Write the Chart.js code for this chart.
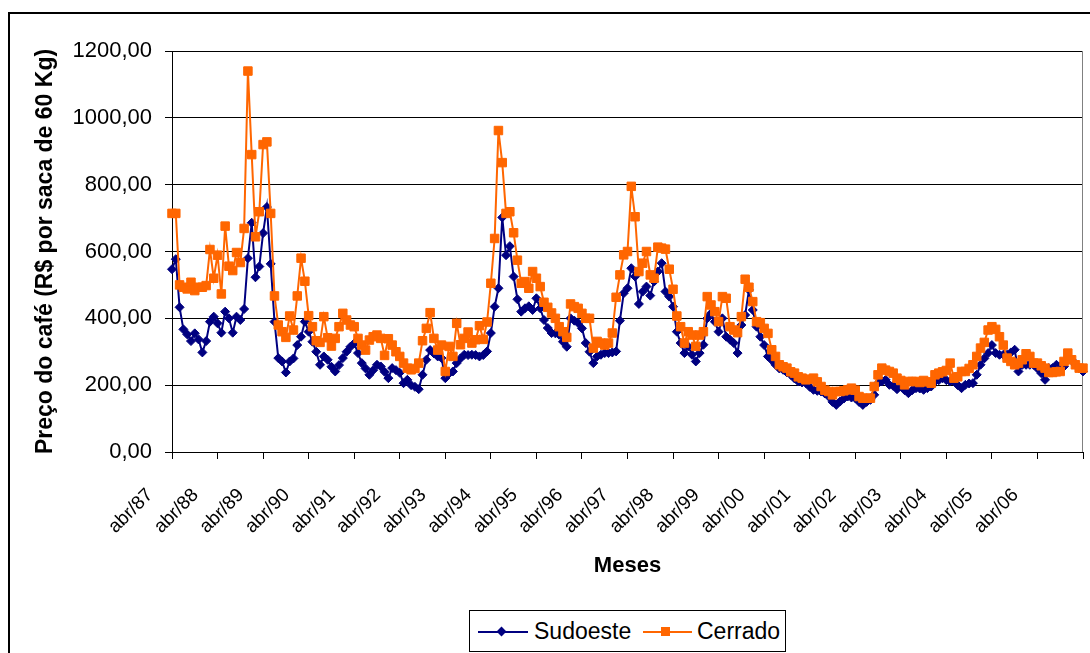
<!DOCTYPE html>
<html>
<head>
<meta charset="utf-8">
<title>Preço do café</title>
<script src="https://cdn.jsdelivr.net/npm/chart.js@4.4.1/dist/chart.umd.min.js"></script>
<style>
  html, body { margin: 0; padding: 0; background: #fff; }
  body { width: 1090px; height: 653px; position: relative; overflow: hidden; font-family: "Liberation Sans", Arial, sans-serif; }
  #frame { position: absolute; left: 8px; top: 12px; width: 1200px; height: 800px; border: 2px solid #000; }
  #chart { position: absolute; left: 0; top: 0; }
  #legend { position: absolute; left: 469px; top: 610px; width: 315px; height: 40px; border: 1px solid #000; background: #fff; }
  #legend .line { position: absolute; height: 2px; top: 20px; }
  #legend .txt { position: absolute; top: 0; line-height: 41px; font-size: 23px; color: #000; }
  #legend .diamond { position: absolute; width: 7px; height: 7px; background: #000080; transform: rotate(45deg); left: 28px; top: 17px; }
  #legend .square { position: absolute; width: 9px; height: 9px; background: #ff6600; left: 191px; top: 16px; }
</style>
</head>
<body>
<div id="frame"></div>
<canvas id="chart" width="1090" height="653"></canvas>
<div id="legend">
  <div class="line" style="left:8px;width:50px;background:#000080"></div>
  <div class="diamond"></div>
  <div class="txt" style="left:64px">Sudoeste</div>
  <div class="line" style="left:173px;width:49px;background:#ff6600"></div>
  <div class="square"></div>
  <div class="txt" style="left:227px">Cerrado</div>
</div>
<script>
  // month labels: abr/87 .. abr/07, one label per year on the axis
  const MONTH_NAMES = ['jan', 'fev', 'mar', 'abr', 'mai', 'jun', 'jul', 'ago', 'set', 'out', 'nov', 'dez'];
  const FIRST_YEAR = 1987;
  const FIRST_MONTH = 3; // abril

  // R$ por saca de 60 kg, one row per year starting in April
  const sudoeste = [
    547, 577, 433, 367, 352, 332, 355, 337, 298, 332, 390, 405,
    385, 357, 420, 400, 357, 405, 395, 428, 580, 686, 523, 555,
    655, 733, 563, 390, 281, 271, 238, 271, 280, 320, 345, 390,
    360, 330, 300, 261, 286, 276, 255, 241, 260, 281, 300, 315,
    325, 296, 266, 250, 231, 245, 261, 256, 240, 221, 251, 245,
    237, 206, 216, 200, 195, 188, 231, 276, 305, 295, 286, 281,
    221, 235, 241, 266, 280, 291, 290, 291, 290, 286, 290, 301,
    356, 435, 490, 702, 589, 616, 525, 457, 420, 430, 436, 425,
    460, 430, 395, 371, 356, 355, 351, 330, 315, 400, 393, 386,
    370, 326, 300, 266, 286, 291, 296, 296, 298, 301, 393, 475,
    490, 550, 525, 443, 480, 495, 468, 510, 540, 565, 480, 465,
    435, 360, 326, 296, 316, 291, 271, 296, 321, 400, 415, 390,
    360, 400, 345, 336, 326, 296, 380, 410, 485, 425, 375, 345,
    320, 286, 275, 261, 250, 246, 238, 231, 220, 211, 208, 206,
    195, 186, 183, 181, 175, 166, 150, 141, 151, 160, 166, 163,
    161, 150, 141, 150, 156, 171, 206, 211, 216, 201, 198, 188,
    196, 185, 176, 185, 191, 190, 186, 191, 196, 211, 215, 221,
    215, 211, 211, 200, 191, 201, 205, 206, 231, 261, 280, 296,
    320, 296, 291, 291, 291, 298, 306, 241, 261, 261, 261, 261,
    250, 236, 216, 251, 251, 261, 256, 256, 281, 276, 261, 250,
    241
  ];

  const cerrado = [
    714, 714, 500, 493, 488, 508, 483, 493, 493, 498, 606, 520,
    589, 473, 676, 556, 543, 597, 567, 669, 1140, 890, 644, 719,
    920, 928, 714, 467, 380, 360, 343, 407, 365, 467, 580, 511,
    408, 375, 333, 328, 405, 342, 317, 340, 375, 415, 395, 380,
    375, 340, 320, 305, 335, 345, 350, 340, 289, 339, 320, 300,
    286, 266, 251, 246, 250, 266, 333, 370, 417, 340, 305, 320,
    241, 316, 286, 385, 321, 340, 359, 326, 336, 378, 337, 389,
    505, 639, 962, 866, 714, 719, 656, 574, 505, 510, 490, 540,
    520, 495, 448, 433, 416, 400, 375, 360, 343, 443, 435, 430,
    415, 400, 400, 311, 331, 326, 320, 326, 356, 463, 530, 590,
    600, 795, 704, 540, 565, 600, 530, 520, 613, 610, 607, 547,
    487, 407, 375, 326, 360, 350, 316, 350, 360, 465, 440, 420,
    390, 465, 460, 375, 365, 357, 405, 517, 493, 450, 390, 387,
    370, 355, 306, 286, 261, 255, 251, 240, 236, 225, 221, 216,
    218, 221, 210, 196, 185, 181, 171, 181, 181, 183, 186, 191,
    185, 166, 161, 161, 161, 196, 231, 251, 245, 241, 236, 221,
    214, 201, 211, 211, 211, 208, 214, 210, 206, 231, 236, 240,
    244, 266, 221, 225, 241, 241, 250, 261, 286, 311, 328, 365,
    375, 367, 345, 320, 281, 271, 261, 266, 276, 294, 286, 266,
    266, 258, 251, 238, 238, 240, 241, 271, 296, 276, 261, 251,
    251
  ];

  const Y_MIN = 0;
  const Y_MAX = 1200;
  const Y_STEP = 200;

  const months = sudoeste.map((_, i) => {
    const k = FIRST_MONTH + i;
    const yy = String(FIRST_YEAR + Math.floor(k / 12)).slice(2);
    return MONTH_NAMES[k % 12] + '/' + yy;
  });

  const FONT = '"Liberation Sans", Arial, sans-serif';

  // gray right edge of the plot area
  const plotFrame = {
    id: 'plotFrame',
    beforeDatasetsDraw(chart) {
      const { ctx, chartArea: a } = chart;
      ctx.save();
      ctx.strokeStyle = '#808080';
      ctx.lineWidth = 1;
      ctx.beginPath();
      ctx.moveTo(a.right - 0.5, a.top);
      ctx.lineTo(a.right - 0.5, a.bottom);
      ctx.stroke();
      ctx.restore();
    }
  };

  new Chart(document.getElementById('chart'), {
    type: 'line',
    data: {
      labels: months,
      datasets: [
        {
          label: 'Sudoeste',
          data: sudoeste,
          order: 1,
          borderColor: '#000080',
          backgroundColor: '#000080',
          borderWidth: 2,
          pointStyle: 'rectRot',
          pointRadius: 4.5,
          pointBorderWidth: 1,
          pointBackgroundColor: '#000080',
          pointBorderColor: '#000080',
          tension: 0,
          clip: false
        },
        {
          label: 'Cerrado',
          data: cerrado,
          order: 0,
          borderColor: '#ff6600',
          backgroundColor: '#ff6600',
          borderWidth: 2,
          pointStyle: 'rect',
          pointRadius: 6,
          pointBorderWidth: 1,
          pointBackgroundColor: '#ff6600',
          pointBorderColor: '#ff6600',
          tension: 0,
          clip: false
        }
      ]
    },
    options: {
      responsive: false,
      animation: false,
      devicePixelRatio: 1,
      layout: { padding: { left: 28, top: 51, right: 3, bottom: 74 } },
      plugins: { legend: { display: false }, tooltip: { enabled: false } },
      scales: {
        x: {
          type: 'category',
          offset: false,
          grid: { drawOnChartArea: false, drawTicks: true, tickLength: 7, color: '#000', lineWidth: 1 },
          border: { display: true, color: '#000', width: 1 },
          ticks: {
            autoSkip: false,
            minRotation: 45,
            maxRotation: 45,
            padding: 25,
            labelOffset: -22,
            color: '#000',
            font: { family: FONT, size: 19 },
            callback: function (value, index) {
              if (index % 12 !== 0) return null;
              if (index === months.length - 1) return '';
              return this.getLabelForValue(value);
            }
          },
          title: {
            display: true,
            text: 'Meses',
            color: '#000',
            padding: 0,
            font: { family: FONT, size: 22, weight: 'bold' }
          },
          afterFit: s => {
            s.height = 127;
            s.paddingLeft = 0;
            s.paddingRight = 0;
          }
        },
        y: {
          min: Y_MIN,
          max: Y_MAX,
          grid: { color: '#000', lineWidth: 1, tickLength: 7 },
          border: { display: true, color: '#000', width: 1 },
          ticks: {
            stepSize: Y_STEP,
            padding: 13,
            color: '#000',
            font: { family: FONT, size: 22 },
            callback: v => v.toFixed(2).replace('.', ',')
          },
          title: {
            display: true,
            text: 'Preço do café (R$ por saca de 60 Kg)',
            color: '#000',
            padding: { top: 4, bottom: 4 },
            font: { family: FONT, size: 23, weight: 'bold' }
          },
          afterFit: s => { s.width = 144; }
        }
      }
    },
    plugins: [plotFrame]
  });
</script>
</body>
</html>
